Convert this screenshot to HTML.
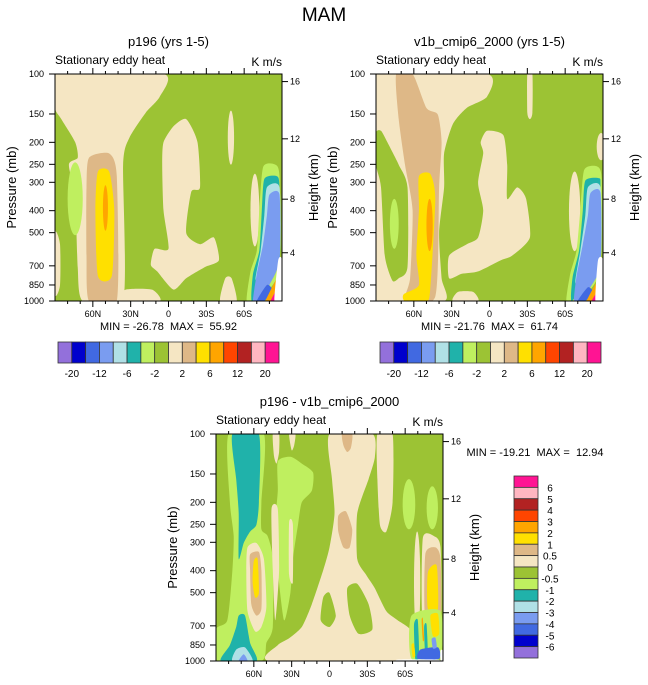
<!DOCTYPE html>
<html><head><meta charset="utf-8"><style>
html,body{margin:0;padding:0;background:#fff;}
svg{display:block;font-family:"Liberation Sans",sans-serif;}
text{white-space:pre;}
</style></head><body>
<svg id="fig" width="648" height="685" viewBox="0 0 648 685" xmlns="http://www.w3.org/2000/svg">
<text x="324" y="21" font-size="19" text-anchor="middle">MAM</text>
</svg>
<script>
// ---------- data ----------
const topLevelLabels = ["-20","-12","-6","-2","2","6","12","20"];
const diffLevelLabels = ["6","5","4","3","2","1","0.5","0","-0.5","-1","-2","-3","-4","-5","-6"];
const topLevels = [-20,-16,-12,-8,-6,-4,-2,0,2,4,6,8,12,16,20];
const diffLevels = [-6,-5,-4,-3,-2,-1,-0.5,0,0.5,1,2,3,4,5,6];
const palette = ["#9370DB","#0000CD","#4169E1","#7A9CF0","#B0E0E6","#20B2AA","#BFEF5F","#9CC334","#F5E6C3","#DEB887","#FFE000","#FFA500","#FF4500","#B22222","#FFB6C1","#FF1493"];
const pressureTicks = [100,150,200,250,300,400,500,700,850,1000];
const heightTicks = [16,12,8,4];
const heightTickPressures = [108,193,356,613];
const latTicks = [60,30,0,-30,-60];
const latTickLabels = ["60N","30N","0","30S","60S"];
const minMaxTop1 = "MIN = -26.78  MAX =  55.92";
const minMaxTop2 = "MIN = -21.76  MAX =  61.74";
const minMaxDiff = "MIN = -19.21  MAX =  12.94";

// contour regions: value + [lat, pressure] outline, or ellipse [lat0,lat1,p0,p1]
const p196Regions = [
 {v:1, pts:[[90,100],[4,100],[7,126],[18,148],[31,191],[36,251],[36,1000],[68,1000],[72,708],[74,355],[79,251],[72,234],[74,200],[85,158],[90,141]]},
 {v:1, pts:[[90,501],[86,562],[86,851],[90,933]]},
 {v:3, pts:[[63,234],[47,224],[41,282],[41,1000],[63,1000],[65,631],[65,316]]},
 {v:5, pts:[[56,269],[47,269],[43,398],[45,776],[56,776],[58,398]]},
 {v:7, e:[52,48,309,490]},
 {v:-3, e:[80,68,245,513]},
 {v:1, pts:[[-4,170],[-14,158],[-23,200],[-25,316],[-18,331],[-14,501],[-25,562],[-36,525],[-40,661],[-29,708],[-14,794],[-4,891],[9,741],[14,692],[11,589],[0,589],[4,398],[5,251],[4,200]]},
 {v:1, e:[-47,-52,145,251]},
 {v:1, pts:[[38,1000],[34,891],[13,891],[7,1000]]},
 {v:1, pts:[[-41,1000],[-45,794],[-50,794],[-54,1000]]},
 {v:1, e:[-65,-72,275,575]},
 {v:-3, pts:[[-75,257],[-84,250],[-88,282],[-88,708],[-80,891],[-70,1000],[-62,1000],[-65,741],[-70,600],[-72,398]]},
 {v:-5, pts:[[-76,290],[-86,282],[-88,316],[-88,661],[-76,832],[-66,1000],[-67,760],[-72,600],[-74,400]]},
 {v:-7, pts:[[-78,316],[-88,316],[-88,631],[-74,794],[-69,800],[-73,600],[-76,420]]},
 {v:-10, pts:[[-80,340],[-88,340],[-88,661],[-80,850],[-72,1000],[-67,1000],[-70,760],[-75,562],[-78,420]]},
 {v:-14, pts:[[-70,1000],[-78,850],[-82,891],[-76,1000]]},
 {v:7, pts:[[-77,1000],[-88,759],[-90,794],[-83,1000]]},
 {v:25, pts:[[-81,1000],[-88,851],[-90,891],[-85,1000]]},
 {v:null, pts:[[-87,661],[-90,661],[-90,1000],[-84,1000]]}
];
const v1bRegions = [
 {v:1, pts:[[90,100],[2,100],[2,126],[18,141],[29,166],[36,224],[36,316],[40,501],[38,794],[36,1000],[90,1000]]},
 {v:-1, pts:[[90,182],[86,178],[81,200],[72,251],[65,316],[65,708],[72,794],[77,813],[83,631],[86,316],[90,251]]},
 {v:-3, e:[79,72,355,589]},
 {v:3, pts:[[74,100],[61,100],[50,141],[41,151],[38,200],[40,316],[43,955],[67,1000],[63,794],[61,398],[67,251],[72,158]]},
 {v:5, pts:[[56,282],[47,275],[43,355],[47,891],[50,1000],[67,1000],[68,933],[56,851],[58,631],[56,398]]},
 {v:7, e:[50,45,355,603]},
 {v:1, pts:[[29,1000],[25,912],[13,912],[9,1000]]},
 {v:1, pts:[[2,178],[-11,186],[-14,251],[-14,355],[-22,316],[-29,355],[-32,525],[-18,631],[-9,661],[9,741],[22,759],[32,794],[32,631],[18,562],[9,525],[5,398],[9,302],[5,224],[7,200]]},
 {v:1, pts:[[-30,100],[-34,100],[-34,148],[-32,158],[-30,148]]},
 {v:1, e:[-63,-72,269,603]},
 {v:1, e:[-85,-92,182,240]},
 {v:-3, pts:[[-75,265],[-85,255],[-89,290],[-88,708],[-80,891],[-68,1000],[-61,1000],[-64,760],[-69,600],[-72,398]]},
 {v:-5, pts:[[-76,295],[-87,288],[-88,316],[-88,661],[-76,832],[-65,1000],[-66,780],[-71,600],[-74,400]]},
 {v:-7, pts:[[-78,316],[-88,316],[-88,661],[-74,832],[-68,830],[-72,600],[-76,420]]},
 {v:-10, pts:[[-80,335],[-88,335],[-88,692],[-80,870],[-72,1000],[-67,1000],[-69,780],[-74,562],[-78,420]]},
 {v:-14, pts:[[-70,1000],[-78,870],[-82,912],[-76,1000]]},
 {v:7, pts:[[-77,1000],[-88,776],[-90,813],[-83,1000]]},
 {v:25, pts:[[-81,1000],[-88,871],[-90,912],[-85,1000]]},
 {v:null, pts:[[-86,661],[-90,661],[-90,1000],[-84,1000]]}
];
const diffRegions = [
 {v:-0.75, pts:[[80,100],[52,100],[54,200],[54,263],[49,282],[45,355],[45,708],[50,832],[54,1000],[90,1000],[90,724],[81,661],[77,398],[76,282],[79,200]]},
 {v:-1.5, pts:[[77,100],[56,100],[56,200],[58,251],[63,269],[68,302],[72,355],[72,224],[74,158]]},
 {v:0.25, pts:[[65,316],[58,302],[52,355],[50,575],[54,708],[59,741],[65,603],[66,398]]},
 {v:0.75, pts:[[63,339],[56,331],[54,398],[54,589],[58,631],[62,562],[63,398]]},
 {v:1.5, pts:[[60,363],[57,355],[56,501],[59,525],[61,447]]},
 {v:-1.5, pts:[[86,1000],[79,851],[74,708],[72,631],[67,631],[63,832],[58,1000]]},
 {v:-2.5, pts:[[77,1000],[74,891],[67,871],[61,1000]]},
 {v:-3.5, pts:[[72,1000],[68,933],[65,1000]]},
 {v:0.25, pts:[[45,100],[40,100],[40,120],[42,135],[44,125]]},
 {v:0.25, pts:[[32,100],[27,100],[28,112],[30,118]]},
 {v:-0.75, pts:[[41,132],[31,126],[22,135],[13,148],[14,178],[22,200],[25,251],[29,355],[31,501],[36,661],[41,398],[43,251],[41,178]]},
 {v:0.25, pts:[[46,214],[41,214],[40,398],[43,661],[45,398]]},
 {v:0.25, pts:[[32,245],[29,251],[29,447],[32,417]]},
 {v:0.25, pts:[[0,100],[-34,100],[-36,126],[-31,158],[-22,224],[-22,355],[-29,417],[-36,479],[-45,603],[-54,661],[-65,741],[-65,1000],[47,1000],[41,851],[32,794],[22,708],[14,562],[5,398],[0,316],[-4,224],[-2,158]]},
 {v:-0.25, pts:[[-14,479],[-22,457],[-31,562],[-34,724],[-23,759],[-16,631]]},
 {v:-0.25, pts:[[5,525],[0,501],[-5,631],[0,708],[7,661]]},
 {v:0.75, pts:[[-10,100],[-18,100],[-17,115],[-14,120],[-11,112]]},
 {v:0.75, pts:[[-7,229],[-13,219],[-18,263],[-16,316],[-11,316],[-7,269]]},
 {v:0.25, pts:[[-38,100],[-50,100],[-50,200],[-45,269],[-40,251],[-38,158]]},
 {v:-0.75, e:[-58,-68,158,263]},
 {v:-0.75, e:[-77,-86,170,263]},
 {v:0.25, e:[-67,-72,269,759]},
 {v:0.25, pts:[[-74,288],[-83,282],[-88,316],[-88,661],[-74,661]]},
 {v:0.75, pts:[[-76,339],[-84,316],[-88,355],[-88,661],[-76,661]]},
 {v:1.5, pts:[[-78,407],[-85,380],[-86,589],[-78,589]]},
 {v:-0.75, pts:[[-65,631],[-88,603],[-88,955],[-65,977]]},
 {v:-1.5, pts:[[-67,692],[-70,661],[-71,955],[-68,977]]},
 {v:-1.5, pts:[[-75,708],[-77,692],[-78,955],[-76,955]]},
 {v:-4.5, pts:[[-72,891],[-86,871],[-87,977],[-70,977]]},
 {v:1.5, pts:[[-80,631],[-86,620],[-87,760],[-82,776]]},
 {v:2.5, pts:[[-73,661],[-74,650],[-75,800],[-74,810]]},
 {v:-3.5, pts:[[-81,800],[-84,790],[-85,870],[-82,880]]},
 {v:1.5, pts:[[-65,850],[-67,840],[-68,950],[-66,960]]},
 {v:null, pts:[[-55,985],[-85,985],[-85,1000],[-55,1000]]},
 {v:null, pts:[[-88,900],[-90,900],[-90,1000],[-88,1000]]}
];

// ---------- drawing ----------
const NS = "http://www.w3.org/2000/svg";
const svg = document.getElementById("fig");
function mk(tag, attrs, parent, text){
  const el = document.createElementNS(NS, tag);
  for (const k in attrs) el.setAttribute(k, attrs[k]);
  if (text !== undefined) el.textContent = text;
  (parent || svg).appendChild(el);
  return el;
}
function colorFor(v, levels){
  if (v === null) return "#ffffff";
  let i = 0; while (i < levels.length && v >= levels[i]) i++;
  return palette[i];
}
function smoothPath(pts){
  const n = pts.length; let d = "M" + pts[0][0].toFixed(1) + "," + pts[0][1].toFixed(1);
  const k = 9;
  for (let i = 0; i < n; i++){
    const p0 = pts[(i-1+n)%n], p1 = pts[i], p2 = pts[(i+1)%n], p3 = pts[(i+2)%n];
    const c1x = p1[0] + (p2[0]-p0[0])/k, c1y = p1[1] + (p2[1]-p0[1])/k;
    const c2x = p2[0] - (p3[0]-p1[0])/k, c2y = p2[1] - (p3[1]-p1[1])/k;
    d += " C" + c1x.toFixed(1)+","+c1y.toFixed(1)+" "+c2x.toFixed(1)+","+c2y.toFixed(1)+" "+p2[0].toFixed(1)+","+p2[1].toFixed(1);
  }
  return d + "Z";
}
function drawPanel(cfg){
  const L = cfg.left, T = cfg.top, W = 227, H = 227;
  const xs = lat => L + (90 - lat) / 180 * W;
  const ys = p => T + Math.log10(p / 100) * H;
  const g = mk("g", {});
  
  
  const defs = mk("defs", {}, g);
  const cp = mk("clipPath", {id: cfg.name + "-clip"}, defs);
  mk("rect", {x:L, y:T, width:W, height:H}, cp);
  const plot = mk("g", {"clip-path": "url(#" + cfg.name + "-clip)"}, g);
  
  
  const bg = mk("rect", {x:L, y:T, width:W, height:H, fill: colorFor(cfg.bg, cfg.levels)}, plot);
  
  
  cfg.regions.forEach(r => {
    let el;
    if (r.e){
      const x0 = xs(r.e[0]), x1 = xs(r.e[1]), y0 = ys(r.e[2]), y1 = ys(r.e[3]);
      el = mk("ellipse", {cx:(x0+x1)/2, cy:(y0+y1)/2, rx:Math.abs(x1-x0)/2, ry:Math.abs(y1-y0)/2, fill: colorFor(r.v, cfg.levels)}, plot);
    } else {
      el = mk("path", {d: smoothPath(r.pts.map(q => [xs(q[0]), ys(q[1])])), fill: colorFor(r.v, cfg.levels)}, plot);
    }
    
    
  });
  mk("rect", {x:L, y:T, width:W, height:H, fill:"none", stroke:"#000", "stroke-width":1}, g);
  pressureTicks.forEach(p => {
    const y = ys(p);
    mk("line", {x1:L-6, x2:L, y1:y, y2:y, stroke:"#000"}, g);
    const t = mk("text", {x:L-11, y:y+3, "font-size":9, "text-anchor":"end"}, g, String(p));
    
    
  });
  heightTicks.forEach((h, i) => {
    const y = ys(heightTickPressures[i]);
    mk("line", {x1:L+W, x2:L+W+6, y1:y, y2:y, stroke:"#000"}, g);
    const t = mk("text", {x:L+W+8, y:y+3, "font-size":9}, g, String(h));
    
    
  });
  for (let lat = 80; lat >= -80; lat -= 10){
    const x = xs(lat), major = lat % 30 === 0;
    mk("line", {x1:x, x2:x, y1:T+H, y2:T+H+(major?6:3), stroke:"#000"}, g);
    mk("line", {x1:x, x2:x, y1:T, y2:T-(major?6:3), stroke:"#000"}, g);
  }
  latTicks.forEach((lat, i) => {
    const t = mk("text", {x:xs(lat), y:T+H+16, "font-size":9, "text-anchor":"middle"}, g, latTickLabels[i]);
    
    
  });
  let t = mk("text", {x:L+W/2, y:T-28, "font-size":13, "text-anchor":"middle"}, g, cfg.title);
  
  
  t = mk("text", {x:L, y:T-10, "font-size":12}, g, "Stationary eddy heat");
  
  
  t = mk("text", {x:L+W, y:T-8, "font-size":12, "text-anchor":"end"}, g, "K m/s");
  
  
  t = mk("text", {x:cfg.ptitleX, y:T+H/2, "font-size":13, "text-anchor":"middle", transform:"rotate(-90 "+cfg.ptitleX+" "+(T+H/2)+")"}, g, "Pressure (mb)");
  
  
  t = mk("text", {x:cfg.htitleX, y:T+H/2, "font-size":13, "text-anchor":"middle", transform:"rotate(-90 "+cfg.htitleX+" "+(T+H/2)+")"}, g, "Height (km)");
  
  
  if (cfg.minmax){
    t = mk("text", {x:L+W/2, y:T+H+29, "font-size":11, "text-anchor":"middle"}, g, cfg.minmax);
    
    
  }
}
function drawHBar(x0, y0, w, h, name){
  const g = mk("g", {});
  
  
  const bw = w / palette.length;
  palette.forEach((c, i) => {
    const r = mk("rect", {x:x0+i*bw, y:y0, width:bw, height:h, fill:c, stroke:"#333", "stroke-width":0.8}, g);
    
    
  });
  topLevelLabels.forEach((lab, i) => {
    const t = mk("text", {x:x0+bw*(1+2*i), y:y0+h+14, "font-size":10, "text-anchor":"middle"}, g, lab);
    
    
  });
}
function drawVBar(x0, y0, w, h){
  const g = mk("g", {});
  
  
  const n = palette.length, bh = h / n;
  for (let i = 0; i < n; i++){
    const r = mk("rect", {x:x0, y:y0+i*bh, width:w, height:bh, fill:palette[n-1-i], stroke:"#333", "stroke-width":0.8}, g);
    
    
  }
  diffLevelLabels.forEach((lab, i) => {
    const t = mk("text", {x:x0+w+12, y:y0+bh*(i+1)+4, "font-size":10, "text-anchor":"middle"}, g, lab);
    
    
  });
}
drawPanel({name:"p196-panel", left:55, top:74, title:"p196 (yrs 1-5)", regions:p196Regions, bg:-1, levels:topLevels, ptitleX:16, htitleX:318, minmax:minMaxTop1});
drawPanel({name:"v1b-panel", left:376, top:74, title:"v1b_cmip6_2000 (yrs 1-5)", regions:v1bRegions, bg:-1, levels:topLevels, ptitleX:337, htitleX:639, minmax:minMaxTop2});
drawPanel({name:"difference-panel", left:216, top:434, title:"p196 - v1b_cmip6_2000", regions:diffRegions, bg:-0.25, levels:diffLevels, ptitleX:177, htitleX:479});
drawHBar(58, 342, 221, 21, "p196-colorbar");
drawHBar(380, 342, 221, 21, "v1b-colorbar");
drawVBar(514, 476, 24, 182);
const mm = mk("text", {x:535, y:456, "font-size":11, "text-anchor":"middle"}, svg, minMaxDiff);


</script>
</body></html>
